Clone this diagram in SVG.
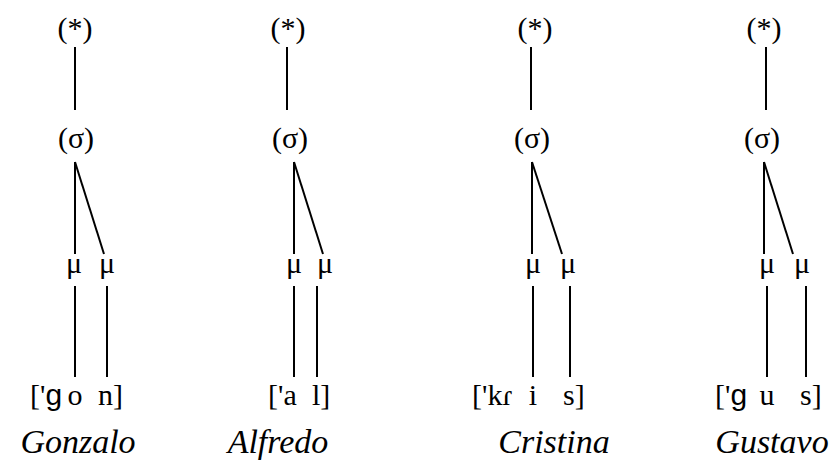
<svg xmlns="http://www.w3.org/2000/svg" width="832" height="463" viewBox="0 0 832 463">
<style>
.t{font-family:'Liberation Serif','DejaVu Serif',serif;font-size:30px;fill:#000}
.m{text-anchor:middle}
.it{font-style:italic;font-size:34px}
.sans{font-family:'Liberation Sans','DejaVu Sans',sans-serif}
#connectors line{stroke:#000;stroke-width:2}
</style>
<rect width="832" height="463" fill="#fff"/>
<g id="connectors">
<line x1="75" y1="47" x2="75" y2="110"/>
<line x1="75" y1="162" x2="75" y2="254"/>
<line x1="75" y1="162" x2="104" y2="254"/>
<line x1="75" y1="286" x2="75" y2="377"/>
<line x1="107" y1="286" x2="107" y2="377"/>

<line x1="287" y1="47" x2="287" y2="110"/>
<line x1="294" y1="162" x2="294" y2="254"/>
<line x1="294" y1="162" x2="323" y2="254"/>
<line x1="294" y1="286" x2="294" y2="377"/>
<line x1="317" y1="286" x2="317" y2="377"/>

<line x1="531" y1="47" x2="531" y2="110"/>
<line x1="532" y1="162" x2="532" y2="254"/>
<line x1="532" y1="162" x2="562" y2="254"/>
<line x1="533" y1="286" x2="533" y2="377"/>
<line x1="570" y1="286" x2="570" y2="377"/>

<line x1="766" y1="47" x2="766" y2="110"/>
<line x1="764" y1="162" x2="764" y2="254"/>
<line x1="764" y1="162" x2="793" y2="254"/>
<line x1="767" y1="286" x2="767" y2="377"/>
<line x1="806" y1="286" x2="806" y2="377"/>
</g>

<g id="gonzalo">
<text class="t m" x="75" y="38">(*)</text>
<text class="t m" x="76" y="148">(σ)</text>
<text class="t m" x="74" y="273">μ</text>
<text class="t m" x="107" y="273">μ</text>
<text class="t" x="30" y="405">['<tspan class="sans">ɡ</tspan></text>
<text class="t m" x="75" y="405">o</text>
<text class="t" x="98" y="405">n]</text>
<text class="t m it" x="78" y="453">Gonzalo</text>
</g>

<g id="alfredo">
<text class="t m" x="288" y="38">(*)</text>
<text class="t m" x="290" y="148">(σ)</text>
<text class="t m" x="294" y="273">μ</text>
<text class="t m" x="325" y="273">μ</text>
<text class="t" x="268" y="405">['a</text>
<text class="t" x="312" y="405">l]</text>
<text class="t m it" x="278" y="453">Alfredo</text>
</g>

<g id="cristina">
<text class="t m" x="535" y="38">(*)</text>
<text class="t m" x="532" y="148">(σ)</text>
<text class="t m" x="533" y="273">μ</text>
<text class="t m" x="568" y="273">μ</text>
<text class="t" x="472" y="405">['kɾ</text>
<text class="t m" x="533" y="405">i</text>
<text class="t" x="563" y="405">s]</text>
<text class="t m it" x="554" y="453">Cristina</text>
</g>

<g id="gustavo">
<text class="t m" x="764" y="38">(*)</text>
<text class="t m" x="762" y="148">(σ)</text>
<text class="t m" x="767" y="273">μ</text>
<text class="t m" x="802" y="273">μ</text>
<text class="t" x="715" y="405">['<tspan class="sans">ɡ</tspan></text>
<text class="t m" x="767" y="405">u</text>
<text class="t" x="800" y="405">s]</text>
<text class="t m it" x="772" y="453">Gustavo</text>
</g>
</svg>
